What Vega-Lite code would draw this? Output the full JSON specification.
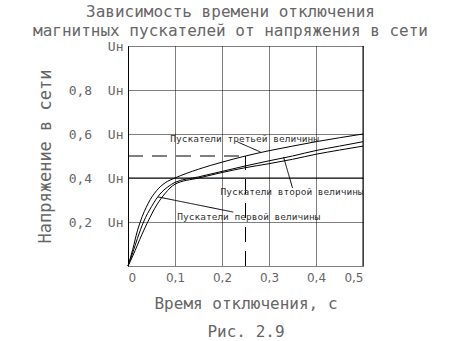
{
  "$schema": "https://vega.github.io/schema/vega-lite/v6.json",
  "width": 235,
  "height": 220,
  "autosize": {"type": "none"},
  "padding": {"left": 128, "top": 46, "right": 110, "bottom": 75},
  "background": "white",
  "config": {"view": {"stroke": null}},
  "title": {
    "text": ["Зависимость времени отключения", "магнитных  пускателей от напряжения в сети"],
    "font": "DejaVu Sans Mono",
    "fontSize": 16,
    "fontWeight": "normal",
    "color": "#666",
    "anchor": "middle",
    "frame": "group",
    "lineHeight": 19.5,
    "offset": 1,
    "dx": -15
  },
  "datasets": {
    "curves": [
      {"series": "третьей", "t": 0, "v": 0},
      {"series": "третьей", "t": 0.01, "v": 0.075},
      {"series": "третьей", "t": 0.02, "v": 0.16},
      {"series": "третьей", "t": 0.026, "v": 0.2},
      {"series": "третьей", "t": 0.043, "v": 0.285},
      {"series": "третьей", "t": 0.061, "v": 0.343},
      {"series": "третьей", "t": 0.079, "v": 0.378},
      {"series": "третьей", "t": 0.1, "v": 0.4},
      {"series": "третьей", "t": 0.15, "v": 0.44},
      {"series": "третьей", "t": 0.2, "v": 0.472},
      {"series": "третьей", "t": 0.25, "v": 0.5},
      {"series": "третьей", "t": 0.3, "v": 0.524},
      {"series": "третьей", "t": 0.35, "v": 0.545},
      {"series": "третьей", "t": 0.4, "v": 0.565},
      {"series": "третьей", "t": 0.45, "v": 0.583},
      {"series": "третьей", "t": 0.5, "v": 0.6},
      {"series": "второй", "t": 0, "v": 0},
      {"series": "второй", "t": 0.01, "v": 0.06},
      {"series": "второй", "t": 0.02, "v": 0.125},
      {"series": "второй", "t": 0.033, "v": 0.2},
      {"series": "второй", "t": 0.05, "v": 0.27},
      {"series": "второй", "t": 0.068, "v": 0.327},
      {"series": "второй", "t": 0.085, "v": 0.36},
      {"series": "второй", "t": 0.1, "v": 0.38},
      {"series": "второй", "t": 0.15, "v": 0.405},
      {"series": "второй", "t": 0.2, "v": 0.43},
      {"series": "второй", "t": 0.25, "v": 0.455},
      {"series": "второй", "t": 0.3, "v": 0.478},
      {"series": "второй", "t": 0.35, "v": 0.5},
      {"series": "второй", "t": 0.4, "v": 0.525},
      {"series": "второй", "t": 0.45, "v": 0.545},
      {"series": "второй", "t": 0.5, "v": 0.565},
      {"series": "первой", "t": 0, "v": 0},
      {"series": "первой", "t": 0.01, "v": 0.045},
      {"series": "первой", "t": 0.02, "v": 0.095},
      {"series": "первой", "t": 0.03, "v": 0.145},
      {"series": "первой", "t": 0.042, "v": 0.2},
      {"series": "первой", "t": 0.061, "v": 0.277},
      {"series": "первой", "t": 0.079, "v": 0.33},
      {"series": "первой", "t": 0.1, "v": 0.372},
      {"series": "первой", "t": 0.15, "v": 0.4},
      {"series": "первой", "t": 0.2, "v": 0.425},
      {"series": "первой", "t": 0.25, "v": 0.447},
      {"series": "первой", "t": 0.3, "v": 0.465},
      {"series": "первой", "t": 0.35, "v": 0.485},
      {"series": "первой", "t": 0.4, "v": 0.508},
      {"series": "первой", "t": 0.45, "v": 0.527},
      {"series": "первой", "t": 0.5, "v": 0.545}
    ],
    "segs": [
      {"x": 0, "x2": 0.5, "y": 0.4, "y2": 0.4, "style": "solid"},
      {"x": 0.5, "x2": 0.5, "y": 0, "y2": 1, "style": "solid"},
      {"x": 0, "x2": 0.25, "y": 0.5, "y2": 0.5, "style": "dash"},
      {"x": 0.25, "x2": 0.25, "y": 0, "y2": 0.5, "style": "dash"},
      {"x": 0.233, "x2": 0.282, "y": 0.564, "y2": 0.518, "style": "solid"},
      {"x": 0.331, "x2": 0.35, "y": 0.495, "y2": 0.355, "style": "solid"},
      {"x": 0.064, "x2": 0.224, "y": 0.314, "y2": 0.245, "style": "solid"}
    ],
    "labels": [
      {"label": "Пускатели третьей величины", "x": 0.09, "y": 0.577},
      {"label": "Пускатели второй величины", "x": 0.197, "y": 0.336},
      {"label": "Пускатели первой величины", "x": 0.105, "y": 0.223}
    ]
  },
  "layer": [
    {
      "data": {"name": "curves"},
      "mark": {"type": "line", "interpolate": "monotone", "color": "black", "strokeWidth": 1},
      "encoding": {
        "x": {
          "field": "t", "type": "quantitative",
          "scale": {"domain": [0, 0.5], "nice": false},
          "axis": {
            "title": ["Время отключения, с", "Рис. 2.9"],
            "titleFont": "DejaVu Sans Mono", "titleFontSize": 16, "titleFontWeight": "normal",
            "titleColor": "#666", "titleLineHeight": 28, "titleBaseline": "middle", "titleY": 37,
            "values": [0, 0.1, 0.2, 0.3, 0.4, 0.5],
            "labelExpr": "datum.value == 0 ? '0\u00a0\u00a0\u00a0\u00a0\u00a0' : replace(format(datum.value, '.1f'), '.', ',') + '\u00a0\u00a0'",
            "labelFont": "DejaVu Sans", "labelFontSize": 12, "labelColor": "#666",
            "labelPadding": 6,
            "domain": false, "ticks": false,
            "grid": true, "gridColor": "black", "gridDash": [1, 1], "gridOpacity": 1, "gridWidth": 1
          }
        },
        "y": {
          "field": "v", "type": "quantitative",
          "scale": {"domain": [0, 1], "nice": false},
          "axis": {
            "title": "Напряжение в сети",
            "titleFont": "DejaVu Sans Mono", "titleFontSize": 17, "titleFontWeight": "normal",
            "titleColor": "#666", "titleAngle": -90, "titleBaseline": "middle",
            "titleX": -83, "titleY": 110,
            "values": [0, 0.2, 0.4, 0.6, 0.8, 1],
            "labelExpr": "datum.value == 0 ? '' : datum.value == 1 ? 'Uн\u00a0' : replace(format(datum.value, '.1f'), '.', ',') + '\u00a0\u00a0Uн'",
            "labelFont": "DejaVu Sans Mono", "labelFontSize": 13, "labelColor": "#666",
            "labelPadding": 5, "labelBaseline": "middle",
            "domain": true, "domainColor": "black", "domainWidth": 1, "ticks": false,
            "grid": true, "gridColor": "black", "gridDash": [1, 1], "gridOpacity": 1, "gridWidth": 1
          }
        },
        "detail": {"field": "series"}
      }
    },
    {
      "data": {"name": "segs"},
      "mark": {"type": "rule", "color": "black", "strokeWidth": 1},
      "encoding": {
        "x": {"field": "x", "type": "quantitative"},
        "x2": {"field": "x2"},
        "y": {"field": "y", "type": "quantitative"},
        "y2": {"field": "y2"},
        "strokeDash": {"field": "style", "type": "nominal", "scale": {"domain": ["solid", "dash"], "range": [[1, 0], [15, 9]]}, "legend": null}
      }
    },
    {
      "data": {"name": "labels"},
      "mark": {"type": "text", "align": "left", "baseline": "middle", "font": "DejaVu Sans Mono", "fontSize": 9.5, "color": "#333"},
      "encoding": {
        "x": {"field": "x", "type": "quantitative"},
        "y": {"field": "y", "type": "quantitative"},
        "text": {"field": "label"}
      }
    }
  ]
}
